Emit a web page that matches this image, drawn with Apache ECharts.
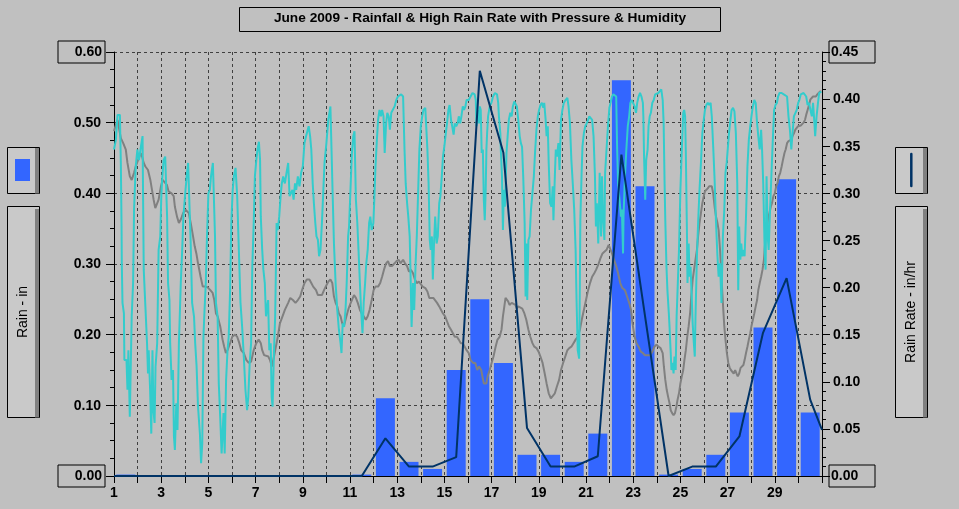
<!DOCTYPE html>
<html>
<head>
<meta charset="utf-8">
<script src="https://cdn.jsdelivr.net/npm/echarts@6.0.0/dist/echarts.min.js"></script>
<style>
html,body{margin:0;padding:0;background:#c0c0c0;}
#chart{width:959px;height:509px;}
</style>
</head>
<body>
<div id="chart"></div>
<script>
const chartTitle = 'June 2009 - Rainfall & High Rain Rate with Pressure & Humidity';
const leftAxisName = 'Rain - in';
const rightAxisName = 'Rain Rate - in/hr';
const xTickLabels = [1,3,5,7,9,11,13,15,17,19,21,23,25,27,29];

// daily rainfall (bar centred on the middle of each day)
const rainDays = [1,2,3,4,5,6,7,8,9,10,11,12,13,14,15,16,17,18,19,20,21,22,23,24,25,26,27,28,29,30];
const rainfallIn = [0.002,0,0,0,0,0,0,0,0,0,0.002,0.11,0.02,0.01,0.15,0.25,0.16,0.03,0.03,0.02,0.06,0.56,0.41,0.002,0.01,0.03,0.09,0.21,0.42,0.09];

// high rain rate, in/hr  [day, value]
const rainRate = [[1.0,0],[1.40,0],[1.45,0.002],[1.50,0],[2.5,0],[3.5,0],[4.5,0],[5.5,0],[6.5,0],[7.5,0],[8.5,0],[9.5,0],[10.5,0],[11.5,0],
  [12.5,0.040],[13.5,0.010],[14.5,0.010],[15.5,0.020],[16.5,0.430],[17.5,0.343],[18.5,0.051],[19.5,0.010],[20.5,0.010],
  [21.5,0.021],[22.5,0.341],[23.5,0.170],[24.5,0.0],[25.5,0.010],[26.5,0.010],[27.5,0.042],[28.5,0.152],[29.5,0.210],
  [30.5,0.081],[31.0,0.049]];

// relative humidity, %  [day, value]
const humidityPct = [[1.00,86.2],[1.08,87.6],[1.15,91.1],[1.25,91.1],[1.29,84.3],[1.32,75.3],[1.33,70.1],[1.36,64.5],[1.42,63.0],[1.44,56.4],[1.53,56.4],[1.57,52.2],[1.61,57.8],[1.67,48.4],[1.72,48.4],[1.75,62.6],[1.81,67.3],[1.85,77.7],[1.92,83.8],[1.99,86.2],[2.06,84.7],[2.14,86.6],[2.21,88.1],[2.24,76.7],[2.26,69.2],[2.33,64.0],[2.40,58.8],[2.44,54.5],[2.47,57.8],[2.53,52.2],[2.58,46.0],[2.63,57.8],[2.67,49.3],[2.72,47.5],[2.76,55.5],[2.83,58.8],[2.89,72.0],[2.96,73.9],[3.00,79.1],[3.03,81.4],[3.10,84.7],[3.17,85.2],[3.24,85.2],[3.25,76.7],[3.29,67.3],[3.35,64.9],[3.38,58.8],[3.44,53.6],[3.50,55.0],[3.54,45.6],[3.58,43.7],[3.64,50.3],[3.69,46.5],[3.75,58.8],[3.83,67.3],[3.89,72.0],[3.94,76.7],[4.03,80.5],[4.08,82.4],[4.14,84.3],[4.22,84.3],[4.25,72.9],[4.31,64.5],[4.39,62.6],[4.44,58.8],[4.50,55.5],[4.56,49.8],[4.64,46.0],[4.69,41.8],[4.74,44.6],[4.79,59.7],[4.83,63.0],[4.89,67.3],[4.94,73.9],[5.00,80.0],[5.06,80.5],[5.11,82.4],[5.19,84.3],[5.25,84.3],[5.28,73.9],[5.32,64.5],[5.39,62.6],[5.44,53.1],[5.50,48.4],[5.56,43.2],[5.64,48.9],[5.69,43.2],[5.75,53.6],[5.81,57.8],[5.86,59.7],[5.92,66.3],[5.97,75.8],[6.03,80.5],[6.08,82.4],[6.15,83.6],[6.22,79.6],[6.29,72.0],[6.36,64.5],[6.43,61.1],[6.50,56.9],[6.57,52.2],[6.64,49.3],[6.69,51.2],[6.75,56.0],[6.81,58.8],[6.86,69.6],[6.92,75.8],[6.97,82.4],[7.03,84.7],[7.08,86.2],[7.14,87.3],[7.19,84.7],[7.22,76.7],[7.28,72.0],[7.33,69.2],[7.39,67.3],[7.44,62.6],[7.53,64.9],[7.58,57.8],[7.64,58.8],[7.68,51.2],[7.72,49.8],[7.78,57.8],[7.83,62.6],[7.89,75.8],[7.94,74.8],[8.00,76.7],[8.06,79.6],[8.11,81.4],[8.17,82.4],[8.24,81.4],[8.31,82.9],[8.38,84.3],[8.44,79.6],
  [8.51,79.6],[8.56,80.5],[8.61,79.1],[8.67,81.4],[8.72,80.5],[8.79,82.4],[8.86,81.0],[8.93,82.9],[9.00,83.8],[9.07,87.1],[9.14,88.1],[9.21,89.0],[9.25,89.5],[9.31,88.1],[9.36,86.2],[9.42,81.4],[9.47,78.6],[9.53,75.8],[9.58,73.9],[9.64,73.4],[9.69,71.1],[9.75,72.0],[9.81,75.8],[9.86,79.6],[9.92,84.3],[10.00,87.1],[10.08,90.4],[10.17,92.3],[10.22,92.5],[10.26,80.5],[10.32,72.9],[10.39,67.3],[10.46,63.5],[10.53,60.7],[10.60,58.8],[10.64,57.4],[10.69,61.6],[10.75,61.1],[10.81,63.5],[10.86,67.3],[10.92,73.9],[10.96,75.3],[11.03,81.4],[11.08,85.7],[11.14,88.1],[11.19,88.8],[11.25,79.1],[11.31,75.8],[11.36,72.0],[11.42,67.3],[11.47,63.5],[11.53,60.2],[11.58,64.5],[11.64,67.3],[11.69,70.1],[11.75,72.0],[11.81,75.8],[11.86,76.7],[11.92,74.8],[11.99,75.8],[12.03,79.1],[12.08,83.8],[12.14,87.6],[12.19,90.4],[12.25,91.8],[12.31,90.9],[12.36,91.8],[12.42,90.9],[12.47,85.7],[12.53,89.9],[12.58,91.4],[12.64,90.9],[12.69,89.0],[12.75,91.4],[12.83,91.4],[12.89,92.3],[12.96,93.2],[13.03,93.7],[13.10,93.7],[13.17,94.0],[13.25,93.7],[13.31,86.2],[13.36,81.4],[13.42,78.6],[13.47,76.7],[13.53,73.9],[13.57,67.8],[13.61,61.1],[13.67,67.3],[13.72,63.5],[13.78,70.1],[13.83,73.9],[13.89,80.5],[13.94,86.2],[14.00,89.5],[14.06,90.9],[14.11,91.8],[14.19,92.1],[14.25,92.3],[14.28,86.2],[14.33,81.4],[14.38,73.4],[14.42,72.0],[14.47,73.9],[14.51,67.8],[14.56,72.9],[14.61,76.7],[14.67,72.9],[14.72,73.9],[14.78,78.6],[14.83,79.6],[14.89,82.4],[14.94,85.2],[15.00,86.7],[15.06,88.5],[15.11,89.9],[15.17,91.8],[15.22,92.5],[15.28,90.4],[15.33,89.5],[15.39,88.3],[15.44,89.9],[15.50,89.5],[15.56,89.9],[15.61,90.9],[15.67,89.9],[15.72,90.9],[15.78,92.3],[15.83,91.8],[15.89,92.3],[15.94,93.2],[16.00,93.2],
  [16.03,93.2],[16.11,93.7],[16.19,94.2],[16.28,94.0],[16.33,93.2],[16.36,89.5],[16.39,90.9],[16.43,91.8],[16.47,89.9],[16.50,92.3],[16.54,91.8],[16.58,85.7],[16.63,86.2],[16.67,79.1],[16.71,76.2],[16.75,80.5],[16.78,86.2],[16.81,88.5],[16.85,90.9],[16.92,92.3],[16.99,92.8],[17.06,93.7],[17.14,94.2],[17.23,94.0],[17.28,92.8],[17.31,90.9],[17.37,88.5],[17.39,86.2],[17.44,82.4],[17.48,74.8],[17.52,80.5],[17.56,78.1],[17.59,80.5],[17.63,85.7],[17.68,88.1],[17.73,90.4],[17.79,91.4],[17.85,90.9],[17.90,92.3],[17.96,93.0],[18.01,93.2],[18.07,92.3],[18.13,90.4],[18.19,88.1],[18.24,87.1],[18.29,86.6],[18.34,82.4],[18.40,75.8],[18.44,65.4],[18.47,72.9],[18.51,64.9],[18.56,73.4],[18.61,73.9],[18.67,77.7],[18.73,80.0],[18.79,82.4],[18.84,85.7],[18.90,89.0],[18.96,90.9],[19.01,91.8],[19.07,92.5],[19.13,92.8],[19.19,92.1],[19.23,92.8],[19.29,90.4],[19.33,88.1],[19.38,89.5],[19.42,84.3],[19.48,78.6],[19.54,78.1],[19.59,81.0],[19.62,76.2],[19.68,82.4],[19.72,86.2],[19.77,85.2],[19.83,87.1],[19.88,83.3],[19.94,90.4],[20.00,91.8],[20.06,92.8],[20.13,93.2],[20.21,93.5],[20.26,92.3],[20.32,89.9],[20.38,84.7],[20.44,81.4],[20.50,77.7],[20.56,72.0],[20.60,64.9],[20.65,57.8],[20.71,56.6],[20.74,67.3],[20.76,76.2],[20.81,82.4],[20.85,86.6],[20.91,88.5],[20.97,89.5],[21.03,89.9],[21.09,90.4],[21.14,90.9],[21.20,91.1],[21.26,90.4],[21.32,88.1],[21.38,82.4],[21.42,75.3],[21.46,78.6],[21.52,72.9],[21.58,82.9],[21.64,73.9],[21.68,82.4],[21.72,76.7],[21.78,73.4],[21.81,82.9],[21.87,86.2],[21.93,89.5],[21.99,92.1],[22.04,92.8],[22.10,93.7],[22.16,94.0],[22.22,94.2],[22.28,93.7],[22.32,86.2],[22.36,81.4],[22.42,79.1],[22.48,76.7],[22.52,77.7],[22.57,71.5],[22.59,76.7],[22.65,82.4],[22.71,86.2],[22.77,89.5],[22.83,90.9],[22.88,92.8],[22.94,93.2],[23.00,93.2],[23.06,92.3],[23.12,91.4],[23.17,92.8],[23.23,93.7],[23.29,94.2],[23.35,93.7],[23.41,92.8],
  [23.43,90.9],[23.46,85.2],[23.51,79.1],[23.55,84.7],[23.61,86.2],[23.65,89.5],[23.70,90.9],[23.75,91.4],[23.81,92.8],[23.87,93.2],[23.93,94.0],[23.99,94.2],[24.07,94.2],[24.13,94.0],[24.19,94.7],[24.25,93.2],[24.29,89.9],[24.33,81.4],[24.36,76.2],[24.41,69.6],[24.45,66.3],[24.51,63.0],[24.54,61.1],[24.57,58.8],[24.59,57.4],[24.62,55.0],[24.67,56.0],[24.71,54.5],[24.75,56.9],[24.80,55.0],[24.84,62.6],[24.88,66.3],[24.94,72.0],[25.00,80.5],[25.06,86.2],[25.12,91.4],[25.16,91.8],[25.20,90.9],[25.23,85.7],[25.28,73.9],[25.30,67.3],[25.35,72.9],[25.39,68.2],[25.43,69.6],[25.48,65.4],[25.52,61.6],[25.57,58.8],[25.61,56.9],[25.64,62.6],[25.70,71.1],[25.75,75.8],[25.81,80.5],[25.87,84.3],[25.93,88.5],[25.99,90.4],[26.04,91.8],[26.10,92.5],[26.16,92.8],[26.22,92.5],[26.28,92.8],[26.33,90.9],[26.39,86.6],[26.45,81.9],[26.51,75.8],[26.57,71.1],[26.62,68.2],[26.68,70.1],[26.74,64.5],[26.80,73.9],[26.86,77.7],[26.91,82.9],[26.96,84.3],[27.00,84.3],[27.06,88.5],[27.12,90.4],[27.17,91.8],[27.23,92.1],[27.29,91.6],[27.35,88.5],[27.41,81.4],[27.45,66.3],[27.49,75.3],[27.54,70.6],[27.58,72.9],[27.62,71.1],[27.67,72.0],[27.72,71.1],[27.78,76.7],[27.84,83.8],[27.90,87.6],[27.96,89.5],[28.01,90.9],[28.07,92.3],[28.13,93.2],[28.19,92.8],[28.25,89.9],[28.30,88.1],[28.36,86.2],[28.42,89.0],[28.46,86.2],[28.51,81.4],[28.57,72.0],[28.61,69.2],[28.65,82.4],[28.70,73.9],[28.74,72.0],[28.80,77.7],[28.86,82.9],[28.91,87.1],[28.97,91.8],[29.03,92.5],[29.09,92.8],[29.14,93.7],[29.20,94.2],[29.29,94.2],[29.38,94.0],[29.46,94.2],[29.52,93.7],[29.58,90.9],[29.64,89.0],[29.70,86.2],[29.75,88.5],[29.81,90.9],[29.87,90.9],[29.93,91.8],[29.99,92.8],[30.04,93.2],[30.10,94.0],[30.16,94.2],[30.22,94.2],[30.28,94.2],[30.33,93.7],[30.39,92.5],[30.45,92.8],[30.51,91.8],[30.57,90.9],[30.62,92.8],[30.68,89.9],[30.71,88.1],[30.77,90.9],[30.83,92.8],[30.88,94.2],[30.97,94.4]];

// barometric pressure, inHg  [day, value]
const pressureInHg = [[1.00,30.088],[1.08,30.097],[1.15,30.104],[1.29,30.078],[1.39,30.071],[1.50,30.062],[1.57,30.043],[1.67,30.024],[1.75,30.019],[1.85,30.029],[1.92,30.038],[2.03,30.048],[2.13,30.057],[2.19,30.052],[2.26,30.043],[2.33,30.038],[2.44,30.033],[2.54,30.019],[2.61,30.005],[2.68,29.991],[2.75,29.979],[2.82,29.981],[2.89,29.991],[2.99,30.010],[3.06,30.019],[3.14,30.019],[3.24,30.012],[3.31,30.003],[3.44,30.000],[3.53,29.996],[3.58,29.981],[3.67,29.967],[3.75,29.958],[3.83,29.963],[3.93,29.972],[4.03,29.977],[4.11,29.977],[4.17,29.972],[4.25,29.958],[4.35,29.939],[4.42,29.925],[4.49,29.915],[4.56,29.901],[4.67,29.882],[4.76,29.868],[4.86,29.868],[4.97,29.867],[5.08,29.863],[5.18,29.859],[5.25,29.849],[5.32,29.830],[5.39,29.826],[5.50,29.812],[5.60,29.793],[5.67,29.783],[5.74,29.774],[5.81,29.778],[5.92,29.788],[6.01,29.797],[6.13,29.800],[6.22,29.797],[6.31,29.788],[6.39,29.778],[6.50,29.774],[6.61,29.764],[6.71,29.760],[6.81,29.762],[6.92,29.778],[7.03,29.788],[7.13,29.793],[7.22,29.788],[7.28,29.778],[7.36,29.771],[7.44,29.771],[7.54,29.769],[7.61,29.764],[7.69,29.755],[7.78,29.769],[7.86,29.783],[7.94,29.797],[8.03,29.816],[8.14,29.826],[8.24,29.835],[8.38,29.845],[8.47,29.852],
  [8.51,29.854],[8.58,29.849],[8.69,29.845],[8.79,29.849],[8.89,29.854],[8.97,29.863],[9.07,29.873],[9.17,29.878],[9.28,29.878],[9.36,29.873],[9.44,29.868],[9.56,29.863],[9.64,29.856],[9.72,29.854],[9.81,29.856],[9.90,29.863],[9.97,29.868],[10.08,29.875],[10.17,29.878],[10.25,29.873],[10.32,29.854],[10.39,29.845],[10.46,29.840],[10.53,29.830],[10.60,29.826],[10.67,29.816],[10.74,29.812],[10.81,29.821],[10.88,29.830],[10.94,29.837],[11.03,29.845],[11.08,29.849],[11.17,29.856],[11.25,29.852],[11.33,29.845],[11.42,29.835],[11.50,29.830],[11.58,29.826],[11.67,29.821],[11.75,29.826],[11.83,29.835],[11.92,29.849],[12.00,29.863],[12.08,29.868],[12.19,29.868],[12.28,29.873],[12.36,29.882],[12.44,29.892],[12.53,29.901],[12.61,29.904],[12.69,29.897],[12.78,29.897],[12.89,29.901],[12.97,29.904],[13.06,29.906],[13.14,29.901],[13.25,29.906],[13.33,29.901],[13.42,29.897],[13.50,29.889],[13.58,29.892],[13.67,29.887],[13.75,29.878],[13.83,29.873],[13.92,29.875],[14.00,29.873],[14.08,29.868],[14.19,29.866],[14.28,29.861],[14.36,29.852],[14.44,29.854],[14.53,29.852],[14.61,29.854],[14.69,29.845],[14.78,29.840],[14.86,29.835],[14.94,29.830],[15.03,29.826],[15.11,29.819],[15.19,29.812],[15.28,29.807],[15.36,29.802],[15.44,29.797],[15.53,29.797],[15.61,29.793],[15.69,29.788],[15.78,29.788],[15.86,29.783],[15.94,29.778],[16.00,29.776],
  [16.03,29.774],[16.11,29.764],[16.22,29.760],[16.31,29.760],[16.39,29.750],[16.47,29.755],[16.56,29.750],[16.61,29.741],[16.67,29.731],[16.72,29.729],[16.78,29.731],[16.83,29.741],[16.92,29.750],[17.00,29.760],[17.08,29.769],[17.17,29.783],[17.25,29.793],[17.34,29.797],[17.42,29.807],[17.48,29.826],[17.54,29.840],[17.59,29.852],[17.65,29.854],[17.70,29.847],[17.76,29.842],[17.85,29.845],[17.93,29.845],[18.01,29.842],[18.07,29.837],[18.13,29.840],[18.21,29.840],[18.30,29.837],[18.39,29.830],[18.47,29.821],[18.56,29.807],[18.64,29.797],[18.73,29.788],[18.81,29.783],[18.90,29.781],[18.99,29.776],[19.07,29.769],[19.16,29.760],[19.25,29.745],[19.33,29.731],[19.42,29.717],[19.51,29.710],[19.59,29.710],[19.68,29.717],[19.77,29.727],[19.86,29.736],[19.94,29.750],[20.03,29.760],[20.12,29.769],[20.21,29.778],[20.29,29.781],[20.38,29.783],[20.47,29.788],[20.56,29.793],[20.65,29.797],[20.74,29.807],[20.82,29.821],[20.91,29.835],[21.00,29.849],[21.09,29.863],[21.17,29.873],[21.26,29.882],[21.35,29.887],[21.43,29.892],[21.52,29.899],[21.61,29.908],[21.70,29.915],[21.78,29.915],[21.87,29.920],[21.96,29.927],[22.04,29.925],[22.10,29.915],[22.19,29.906],[22.28,29.897],[22.36,29.887],[22.45,29.873],[22.54,29.866],[22.65,29.863],[22.74,29.854],[22.83,29.845],[22.91,29.835],[22.97,29.816],[23.06,29.797],[23.14,29.788],[23.23,29.783],[23.32,29.776],[23.41,29.774],[23.49,29.771],[23.55,29.771],
  [23.72,29.771],[23.81,29.776],[23.90,29.783],[23.99,29.786],[24.07,29.783],[24.16,29.781],[24.25,29.774],[24.30,29.755],[24.36,29.736],[24.42,29.722],[24.48,29.712],[24.54,29.703],[24.59,29.693],[24.65,29.689],[24.71,29.686],[24.77,29.689],[24.83,29.698],[24.88,29.708],[24.94,29.717],[25.00,29.731],[25.06,29.741],[25.12,29.750],[25.17,29.764],[25.23,29.778],[25.29,29.797],[25.35,29.812],[25.41,29.830],[25.46,29.854],[25.52,29.878],[25.58,29.892],[25.64,29.906],[25.70,29.920],[25.75,29.939],[25.81,29.958],[25.87,29.972],[25.93,29.986],[25.99,29.996],[26.04,30.003],[26.10,30.005],[26.16,30.007],[26.22,30.010],[26.28,30.012],[26.33,30.010],[26.39,30.000],[26.45,29.981],[26.51,29.967],[26.57,29.958],[26.62,29.948],[26.68,29.920],[26.74,29.882],[26.80,29.845],[26.86,29.812],[26.91,29.793],[26.97,29.774],[27.03,29.760],[27.09,29.753],[27.14,29.750],[27.20,29.748],[27.26,29.745],[27.32,29.750],[27.38,29.745],[27.43,29.741],[27.49,29.745],[27.55,29.753],[27.61,29.755],[27.67,29.757],[27.72,29.764],[27.78,29.774],[27.84,29.783],[27.90,29.793],[27.96,29.802],[28.01,29.812],[28.07,29.821],[28.13,29.830],[28.19,29.840],[28.25,29.849],[28.30,29.863],[28.36,29.873],[28.42,29.882],[28.48,29.892],[28.54,29.906],[28.59,29.930],[28.65,29.948],[28.71,29.963],[28.77,29.972],[28.83,29.981],[28.88,29.986],[28.94,29.996],[29.00,30.000],[29.06,30.010],[29.12,30.015],[29.17,30.024],[29.23,30.029],[29.29,30.038],[29.35,30.048],[29.41,30.057],[29.46,30.062],[29.52,30.071],[29.58,30.074],[29.64,30.074],[29.70,30.076],[29.75,30.081],[29.81,30.085],[29.87,30.090],[29.93,30.092],[29.99,30.095],[30.04,30.095],[30.10,30.096],[30.16,30.097],[30.22,30.100],[30.28,30.104],[30.33,30.111],[30.39,30.118],[30.45,30.125],[30.51,30.133],[30.57,30.135],[30.62,30.137],[30.68,30.137],[30.74,30.137],[30.80,30.140],[30.86,30.142],[30.91,30.144],[30.97,30.144]];

const FONT = '"Liberation Sans", Arial, sans-serif';
const BLUE = '#3366ff', CYAN = '#33cccc', GREY = '#808080', NAVY = '#003366';

const chart = echarts.init(document.getElementById('chart'), null, {renderer: 'canvas'});

const labelBase = {fontFamily: FONT, fontSize: 14, fontWeight: 'bold', color: '#000', width: 41, height: 15, lineHeight: 15};
function isEdge(v, max) { return Math.abs(v) < 1e-9 || Math.abs(v - max) < 1e-9; }

function panel(x, y, w, h) {
  return [
    {type: 'rect', shape: {x: x, y: y, width: w, height: h}, style: {fill: '#c9c9c9', stroke: '#000', lineWidth: 1}, silent: true},
    {type: 'rect', shape: {x: x + w - 4.5, y: y + (h > 60 ? 2.5 : 0.5), width: 4, height: h - (h > 60 ? 2.5 : 0.5)}, style: {fill: '#808080'}, silent: true}
  ];
}

const graphics = [].concat(
  [{type: 'rect', shape: {x: 239.5, y: 7.5, width: 481, height: 24}, style: {fill: 'none', stroke: '#000', lineWidth: 1}, silent: true},
   {type: 'text', x: 480, y: 18, style: {text: chartTitle, font: 'bold 13.7px ' + FONT, fill: '#000', align: 'center', verticalAlign: 'middle', textAlign: 'center', textVerticalAlign: 'middle'}, silent: true}],
  panel(7.5, 147.5, 32, 46),
  [{type: 'rect', shape: {x: 15, y: 159, width: 15, height: 22}, style: {fill: BLUE}, silent: true}],
  panel(7.5, 206.5, 32, 211),
  [{type: 'text', x: 23, y: 312, rotation: Math.PI / 2, style: {text: leftAxisName, font: '14px ' + FONT, fill: '#000', align: 'center', verticalAlign: 'middle', textAlign: 'center', textVerticalAlign: 'middle'}, silent: true}],
  panel(895.5, 147.5, 32, 46),
  [{type: 'line', shape: {x1: 911.3, y1: 154, x2: 911.3, y2: 186}, style: {stroke: NAVY, lineWidth: 2.5, lineCap: 'round'}, silent: true}],
  panel(895.5, 206.5, 32, 211),
  [{type: 'text', x: 911.5, y: 312, rotation: Math.PI / 2, style: {text: rightAxisName, font: '14px ' + FONT, fill: '#000', align: 'center', verticalAlign: 'middle', textAlign: 'center', textVerticalAlign: 'middle'}, silent: true}]
);

const option = {
  animation: false,
  backgroundColor: '#c0c0c0',
  graphic: {elements: graphics},
  grid: {left: 114, right: 137, top: 52, bottom: 33, containLabel: false},
  xAxis: {
    type: 'value', min: 1, max: 31, interval: 1,
    axisLine: {show: true, onZero: false, lineStyle: {color: '#000', width: 1}},
    axisTick: {show: true, length: 7, lineStyle: {color: '#000'}},
    axisLabel: {
      margin: 10, fontFamily: FONT, fontSize: 14, fontWeight: 'bold', color: '#000',
      formatter: function (v) { return xTickLabels.indexOf(v) >= 0 ? String(v) : ''; }
    },
    splitLine: {show: true, lineStyle: {color: '#404040', type: [3, 3], width: 1}}
  },
  yAxis: [
    {
      type: 'value', min: 0, max: 0.6, interval: 0.1, position: 'left',
      axisLine: {show: true, lineStyle: {color: '#000', width: 1}},
      axisTick: {show: true, length: 8, lineStyle: {color: '#000'}},
      minorTick: {show: true, splitNumber: 4, length: 4, lineStyle: {color: '#000'}},
      splitLine: {show: true, lineStyle: {color: '#404040', type: [3, 3], width: 1}},
      axisLabel: {
        margin: 9,
        formatter: function (v) { const s = v.toFixed(2); return isEdge(v, 0.6) ? '{b|' + s + '}' : '{p|' + s + '}'; },
        rich: {
          b: Object.assign({}, labelBase, {align: 'right', padding: [4, 3, 3, 3], borderColor: '#000', borderWidth: 1}),
          p: Object.assign({}, labelBase, {align: 'right', padding: [4, 4, 3, 3]})
        }
      }
    },
    {
      type: 'value', min: 0, max: 0.45, interval: 0.05, position: 'right',
      axisLine: {show: true, lineStyle: {color: '#000', width: 1}},
      axisTick: {show: true, length: 8, lineStyle: {color: '#000'}},
      minorTick: {show: true, splitNumber: 5, length: 4, lineStyle: {color: '#000'}},
      splitLine: {show: false},
      axisLabel: {
        margin: 7,
        formatter: function (v) { const s = v.toFixed(2); return isEdge(v, 0.45) ? '{b|' + s + '}' : '{p|' + s + '}'; },
        rich: {
          b: Object.assign({}, labelBase, {align: 'left', padding: [4, 3, 3, 2], borderColor: '#000', borderWidth: 1}),
          p: Object.assign({}, labelBase, {align: 'left', padding: [4, 3, 3, 4]})
        }
      }
    },
    {type: 'value', min: 40, max: 100, show: false},
    {type: 'value', min: 29.6, max: 30.2, show: false}
  ],
  series: [
    {
      name: 'Rain', type: 'bar', xAxisIndex: 0, yAxisIndex: 0, barWidth: 19,
      itemStyle: {color: BLUE},
      data: rainDays.map(function (d, i) { return [d + 0.5, rainfallIn[i]]; })
    },
    {
      name: 'Pressure', type: 'line', yAxisIndex: 3, symbol: 'none',
      lineStyle: {color: GREY, width: 2}, data: pressureInHg
    },
    {
      name: 'Humidity', type: 'line', yAxisIndex: 2, symbol: 'none',
      lineStyle: {color: CYAN, width: 2}, data: humidityPct
    },
    {
      name: 'Rain Rate', type: 'line', yAxisIndex: 1, symbol: 'none',
      lineStyle: {color: NAVY, width: 2}, data: rainRate
    }
  ]
};
chart.setOption(option);
</script>
</body>
</html>
